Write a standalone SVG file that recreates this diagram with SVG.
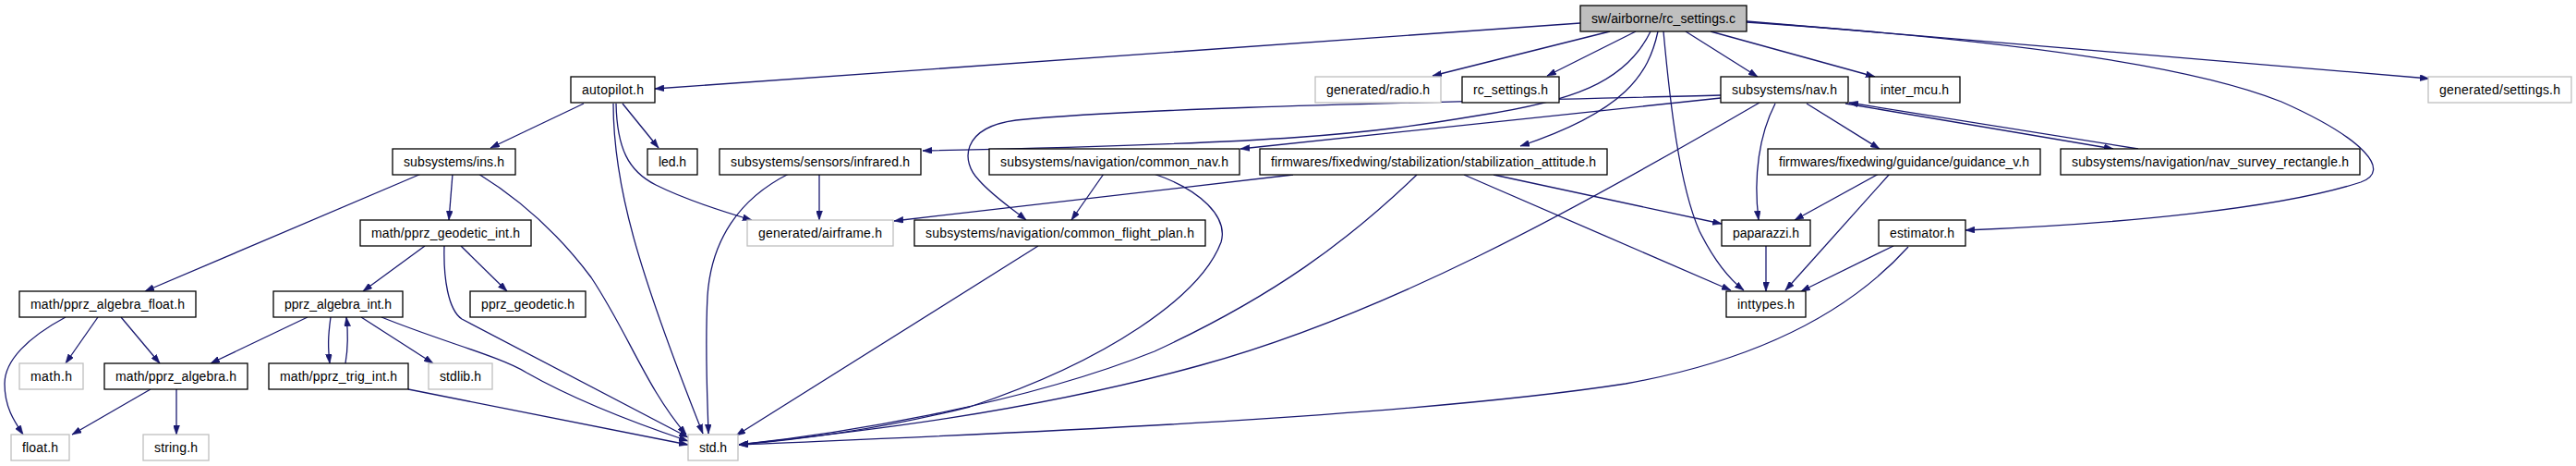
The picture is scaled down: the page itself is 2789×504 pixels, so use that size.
<svg xmlns="http://www.w3.org/2000/svg" width="2789" height="504" viewBox="0 0 2789 504">
<style>
.nd rect{fill:#ffffff;stroke:#000000;stroke-width:1.3}
.nd.gr rect{stroke:#bfbfbf}
.nd.rt rect{fill:#bfbfbf}
.nd text{font-family:"Liberation Sans",Arial,sans-serif;font-size:14px;fill:#000000;text-anchor:middle}
#edges path{fill:none;stroke:#191970;stroke-width:1.3;marker-end:url(#ah)}
</style>
<defs>
<marker id="ah" viewBox="0 0 10 7" refX="10" refY="3.5" markerWidth="10" markerHeight="7" markerUnits="userSpaceOnUse" orient="auto">
<path d="M0,0 L10,3.5 L0,7 z" fill="#191970" stroke="#191970" stroke-width="0.5"/>
</marker>
</defs>
<rect x="0" y="0" width="2789" height="504" fill="#ffffff"/>
<g id="edges">
<path d="M1711,25 L709,96"/>
<path d="M1743,34 L1551,82"/>
<path d="M1771,34 L1675,82"/>
<path d="M1825,34 L1903,83"/>
<path d="M1852,34 L2030,83"/>
<path d="M1891,23 L2630,85"/>
<path d="M1891,24 C2100,38 2350,62 2470,110 C2560,150 2590,185 2556,197 C2470,225 2300,242 2128,249"/>
<path d="M1795,34 C1785,80 1760,120 1646,158"/>
<path d="M1787,34 C1760,90 1700,110 1600,125 C1480,145 1400,155 999,163"/>
<path d="M1801,34 C1808,110 1818,200 1840,250 C1855,280 1870,300 1888,314"/>
<path d="M1863,103 C1600,110 1250,115 1100,130 C1040,138 1040,175 1060,195 C1075,212 1095,225 1111,238"/>
<path d="M1863,106 L1343,161"/>
<path d="M1905,111 C1700,230 1500,340 1300,395 C1100,450 900,470 800,481"/>
<path d="M1534,189 C1460,260 1380,320 1250,380 C1100,440 900,470 800,481"/>
<path d="M2066,267 C2000,340 1900,390 1760,415 C1500,455 1000,472 800,481"/>
<path d="M1249,188 C1300,205 1330,235 1322,262 C1300,320 1200,390 1050,440 C950,465 870,475 800,481"/>
<path d="M1124,266 L797,471"/>
<path d="M854,188 C800,215 770,260 766,320 C763,380 766,430 767,469"/>
<path d="M887,188 L887,238"/>
<path d="M664,112 C664,200 690,290 761,469"/>
<path d="M667,112 C668,160 680,185 710,200 C740,215 780,228 814,238"/>
<path d="M674,112 L713,160"/>
<path d="M632,112 L531,160"/>
<path d="M456,188 L157,315"/>
<path d="M490,188 L486,238"/>
<path d="M518,188 C570,220 610,260 640,300 C680,360 700,420 743,470"/>
<path d="M460,266 L393,315"/>
<path d="M499,266 L549,315"/>
<path d="M481,266 C480,300 485,335 500,345 L745,473"/>
<path d="M413,343 C480,370 540,385 570,403 C600,420 650,445 745,477"/>
<path d="M442,421 L745,481"/>
<path d="M358,343 C355,365 355,375 357,393"/>
<path d="M374,393 C377,375 377,360 375,343"/>
<path d="M333,343 L228,393"/>
<path d="M391,343 L469,393"/>
<path d="M106,343 L71,393"/>
<path d="M131,343 L173,393"/>
<path d="M71,343 C30,365 5,390 5,415 C5,440 15,455 25,470"/>
<path d="M163,421 L78,470"/>
<path d="M191,421 L191,470"/>
<path d="M1400,189 L968,239"/>
<path d="M1617,189 L1864,242"/>
<path d="M1585,189 L1874,314"/>
<path d="M1922,112 C1905,145 1898,190 1904,238"/>
<path d="M1956,112 L2035,161"/>
<path d="M1998,112 L2288,161"/>
<path d="M2315,161 L2002,111"/>
<path d="M2034,188 L1943,238"/>
<path d="M2046,188 L1933,314"/>
<path d="M1912,266 L1912,315"/>
<path d="M2050,266 L1950,315"/>
<path d="M1195,188 L1160,238"/>
</g>
<g id="n_root" class="nd rt"><rect x="1711" y="6" width="180" height="28"/><text x="1801" y="25" textLength="156" lengthAdjust="spacing">sw/airborne/rc_settings.c</text></g>
<g id="n_autopilot" class="nd"><rect x="618" y="83" width="91" height="28"/><text x="663.5" y="102" textLength="67" lengthAdjust="spacing">autopilot.h</text></g>
<g id="n_radio" class="nd gr"><rect x="1424" y="83" width="136" height="28"/><text x="1492" y="102" textLength="112" lengthAdjust="spacing">generated/radio.h</text></g>
<g id="n_rc_settings" class="nd"><rect x="1583" y="83" width="105" height="28"/><text x="1635.5" y="102" textLength="81" lengthAdjust="spacing">rc_settings.h</text></g>
<g id="n_nav" class="nd"><rect x="1863" y="83" width="138" height="28"/><text x="1932" y="102" textLength="114" lengthAdjust="spacing">subsystems/nav.h</text></g>
<g id="n_inter_mcu" class="nd"><rect x="2024" y="83" width="98" height="28"/><text x="2073" y="102" textLength="74" lengthAdjust="spacing">inter_mcu.h</text></g>
<g id="n_settings" class="nd gr"><rect x="2629" y="83" width="155" height="28"/><text x="2706.5" y="102" textLength="131" lengthAdjust="spacing">generated/settings.h</text></g>
<g id="n_ins" class="nd"><rect x="425" y="161" width="133" height="28"/><text x="491.5" y="180" textLength="109" lengthAdjust="spacing">subsystems/ins.h</text></g>
<g id="n_led" class="nd"><rect x="701" y="161" width="54" height="28"/><text x="728" y="180" textLength="30" lengthAdjust="spacing">led.h</text></g>
<g id="n_infrared" class="nd"><rect x="779" y="161" width="218" height="28"/><text x="888" y="180" textLength="194" lengthAdjust="spacing">subsystems/sensors/infrared.h</text></g>
<g id="n_common_nav" class="nd"><rect x="1071" y="161" width="271" height="28"/><text x="1206.5" y="180" textLength="247" lengthAdjust="spacing">subsystems/navigation/common_nav.h</text></g>
<g id="n_stab_att" class="nd"><rect x="1364" y="161" width="376" height="28"/><text x="1552" y="180" textLength="352" lengthAdjust="spacing">firmwares/fixedwing/stabilization/stabilization_attitude.h</text></g>
<g id="n_guidance_v" class="nd"><rect x="1914" y="161" width="295" height="28"/><text x="2061.5" y="180" textLength="271" lengthAdjust="spacing">firmwares/fixedwing/guidance/guidance_v.h</text></g>
<g id="n_survey_rect" class="nd"><rect x="2231" y="161" width="324" height="28"/><text x="2393" y="180" textLength="300" lengthAdjust="spacing">subsystems/navigation/nav_survey_rectangle.h</text></g>
<g id="n_geodetic_int" class="nd"><rect x="390" y="238" width="185" height="28"/><text x="482.5" y="257" textLength="161" lengthAdjust="spacing">math/pprz_geodetic_int.h</text></g>
<g id="n_airframe" class="nd gr"><rect x="809" y="238" width="158" height="28"/><text x="888" y="257" textLength="134" lengthAdjust="spacing">generated/airframe.h</text></g>
<g id="n_common_fp" class="nd"><rect x="990" y="238" width="315" height="28"/><text x="1147.5" y="257" textLength="291" lengthAdjust="spacing">subsystems/navigation/common_flight_plan.h</text></g>
<g id="n_paparazzi" class="nd"><rect x="1864" y="238" width="96" height="28"/><text x="1912" y="257" textLength="72" lengthAdjust="spacing">paparazzi.h</text></g>
<g id="n_estimator" class="nd"><rect x="2034" y="238" width="94" height="28"/><text x="2081" y="257" textLength="70" lengthAdjust="spacing">estimator.h</text></g>
<g id="n_algebra_float" class="nd"><rect x="21" y="315" width="191" height="28"/><text x="116.5" y="334" textLength="167" lengthAdjust="spacing">math/pprz_algebra_float.h</text></g>
<g id="n_algebra_int" class="nd"><rect x="296" y="315" width="140" height="28"/><text x="366" y="334" textLength="116" lengthAdjust="spacing">pprz_algebra_int.h</text></g>
<g id="n_geodetic" class="nd"><rect x="509" y="315" width="125" height="28"/><text x="571.5" y="334" textLength="101" lengthAdjust="spacing">pprz_geodetic.h</text></g>
<g id="n_inttypes" class="nd"><rect x="1869" y="315" width="86" height="28"/><text x="1912" y="334" textLength="62" lengthAdjust="spacing">inttypes.h</text></g>
<g id="n_math" class="nd gr"><rect x="21" y="393" width="69" height="28"/><text x="55.5" y="412" textLength="45" lengthAdjust="spacing">math.h</text></g>
<g id="n_algebra" class="nd"><rect x="113" y="393" width="155" height="28"/><text x="190.5" y="412" textLength="131" lengthAdjust="spacing">math/pprz_algebra.h</text></g>
<g id="n_trig_int" class="nd"><rect x="291" y="393" width="151" height="28"/><text x="366.5" y="412" textLength="127" lengthAdjust="spacing">math/pprz_trig_int.h</text></g>
<g id="n_stdlib" class="nd gr"><rect x="464" y="393" width="69" height="28"/><text x="498.5" y="412" textLength="45" lengthAdjust="spacing">stdlib.h</text></g>
<g id="n_float" class="nd gr"><rect x="12" y="470" width="63" height="28"/><text x="43.5" y="489" textLength="39" lengthAdjust="spacing">float.h</text></g>
<g id="n_string" class="nd gr"><rect x="155" y="470" width="71" height="28"/><text x="190.5" y="489" textLength="47" lengthAdjust="spacing">string.h</text></g>
<g id="n_std" class="nd gr"><rect x="745" y="470" width="54" height="28"/><text x="772" y="489" textLength="30" lengthAdjust="spacing">std.h</text></g>
</svg>
